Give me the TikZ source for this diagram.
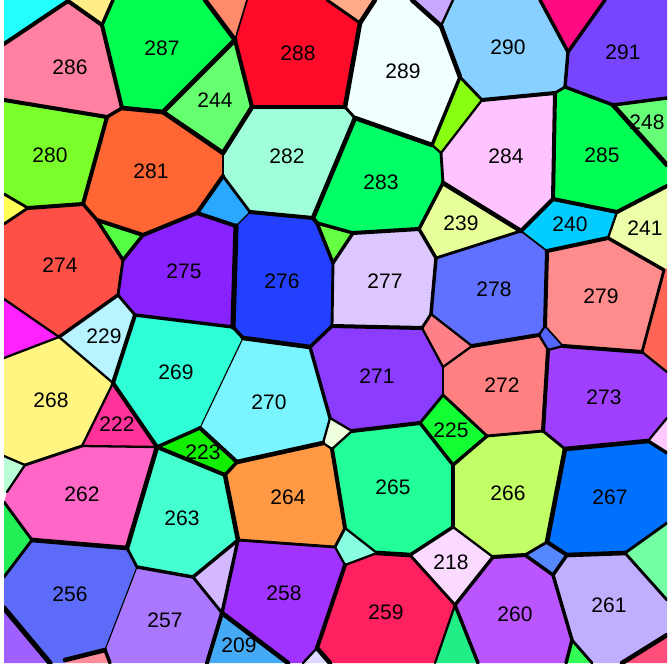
\documentclass[tikz,border=0pt]{standalone}
\usepackage{fontspec}
\setmainfont{Liberation Sans}
\begin{document}
\begin{tikzpicture}[x=1pt,y=-1pt,
  ew/.style={line width=#1*1.15pt,line cap=round,line join=round},
  lab/.style={font=\fontsize{21}{24}\selectfont,inner sep=0pt}]
\useasboundingbox (0,0) rectangle (667,668);
\fill[white] (0,0) rectangle (667,668);
% vertices
\foreach \n/\x/\y in {a1/4/44,a2/68/1,a3/102/25,a4/113/0,a5/122/108,a6/107/117,a7/4/100,a8/163/112,a9/235/40,a10/205/0,
a11/247/0,a12/252/107,a13/345/107,a14/360/23,a15/327/0,a16/375/0,a17/355/118,a18/432/145,a19/460/77,a20/441/26,
a21/412/0,a22/453/0,a23/482/100,a24/441/153,a25/555/93,a26/565/87,a27/568/52,a28/540/0,a29/605/0,a30/613/105,
a31/667/98,a32/667/165,a33/667/186,a34/617/212,a35/553/199,a36/521/231,a37/443/183,a38/419/229,a39/436/258,a40/547/251,
a41/608/238,a42/664/270,a43/667/268,a44/642/352,a45/667/372,a46/563/346,a47/545/326,a48/539/335,a49/548/350,a50/472/346,
a51/431/314,a52/422/328,a53/443/367,a54/443/395,a55/487/436,a56/543/431,a57/565/449,a58/648/441,a59/667/418,a60/667/453,
a61/420/423,a62/453/465,a63/352/431,a64/330/418,a65/310/347,a66/332/326,a67/333/263,a68/353/233,a69/317/223,a70/313/218,
a72/250/212,a73/223/176,a74/223/153,a75/197/213,a76/236/226,a77/143/235,a78/97/220,a79/83/204,a80/28/208,
a81/4/194,a82/4/224,a83/123/260,a84/118/295,a85/59/337,a86/4/299,a87/4/358,a88/135/315,a89/113/383,a90/233/327,
a91/243/338,a92/200/428,a93/157/447,a94/82/446,a95/25/465,a96/4/456,a97/7/492,a98/4/502,a99/32/540,a100/4/577,
b1/237/462,b2/225/475,b3/323/443,b4/332/449,b5/345/528,b6/335/547,b7/238/540,b8/193/577,b9/137/567,b10/127/548,
b11/105/650,b12/65/660,b13/110/663,b14/66/663,b15/50/663,b16/4/608,b17/222/613,b18/207/663,b19/288/663,b20/303/663,
b21/317/648,b22/330/663,b23/345/565,b24/377/553,b25/410/555,b26/453/527,b27/493/557,b28/455/605,b29/435/663,b30/478/663,
b31/525/555,b32/547/542,b33/567/555,b34/553/575,b35/572/640,b36/566/663,b37/592/663,b38/625/553,b39/667/523,b40/667/600,
b41/667/635,b42/622/663,c1/4/0,c2/667/0,c3/667/663,c4/4/663,t1/68/0,m1/4/492}
  {\coordinate (\n) at (\x,\y);}
\begin{scope}
\clip (4,0) rectangle (667,663);
% cells
\foreach \col/\pts in {
 22FFFF/{(c1)--(t1)--(a2)--(a1)},
 FFEE88/{(t1)--(a2)--(a3)--(a4)},
 FF80A0/{(a1)--(a2)--(a3)--(a5)--(a6)--(a7)},
 00FF50/{(a4)--(a3)--(a5)--(a8)--(a9)--(a10)},
 FF8A6C/{(a10)--(a9)--(a11)},
 66FF70/{(a9)--(a12)--(a74)--(a8)},
 FF0A28/{(a11)--(a9)--(a12)--(a13)--(a14)--(a15)},
 FFAA88/{(a15)--(a14)--(a16)},
 F2FFFF/{(a16)--(a14)--(a13)--(a17)--(a18)--(a19)--(a20)--(a21)},
 C8A8FF/{(a21)--(a20)--(a22)},
 88FF11/{(a19)--(a23)--(a24)--(a18)},
 88D0FF/{(a22)--(a20)--(a19)--(a23)--(a25)--(a26)--(a27)--(a28)},
 FF0A80/{(a28)--(a27)--(a29)},
 7744FF/{(a29)--(a27)--(a26)--(a30)--(a31)--(c2)},
 66FF77/{(a30)--(a31)--(a32)},
 00FF55/{(a25)--(a26)--(a30)--(a32)--(a33)--(a34)--(a35)},
 FFC4FF/{(a23)--(a25)--(a35)--(a36)--(a37)--(a24)},
 00FF66/{(a17)--(a18)--(a24)--(a37)--(a38)--(a68)--(a69)--(a70)},
 A0FFDA/{(a12)--(a13)--(a17)--(a70)--(a72)--(a73)--(a74)},
 FF6633/{(a6)--(a5)--(a8)--(a74)--(a73)--(a75)--(a77)--(a78)--(a79)},
 7BFF2B/{(a7)--(a6)--(a79)--(a80)--(a81)},
 FFFF55/{(a81)--(a80)--(a82)},
 2AA8FF/{(a73)--(a72)--(a76)--(a75)},
 2440FF/{(a72)--(a70)--(a69)--(a67)--(a66)--(a65)--(a91)--(a90)--(a76)},
 66FF44/{(a69)--(a68)--(a67)},
 DCC8FF/{(a68)--(a38)--(a39)--(a51)--(a52)--(a66)--(a67)},
 E6FF99/{(a37)--(a36)--(a39)--(a38)},
 00CCFF/{(a36)--(a35)--(a34)--(a41)--(a40)},
 EEFFAA/{(a34)--(a33)--(a43)--(a42)--(a41)},
 6070FF/{(a36)--(a40)--(a47)--(a48)--(a50)--(a51)--(a39)},
 FF8C8C/{(a40)--(a41)--(a42)--(a44)--(a46)--(a47)},
 FF6655/{(a42)--(a43)--(a45)--(a44)},
 5566FF/{(a47)--(a46)--(a49)--(a48)},
 A040FF/{(a49)--(a46)--(a44)--(a45)--(a59)--(a58)--(a57)--(a56)},
 FFC8FF/{(a59)--(a60)--(a58)},
 FF8080/{(a50)--(a48)--(a49)--(a56)--(a55)--(a54)--(a53)},
 FF8088/{(a51)--(a50)--(a53)--(a52)},
 8C3CFF/{(a65)--(a66)--(a52)--(a53)--(a54)--(a61)--(a63)--(a64)},
 11FF33/{(a61)--(a54)--(a55)--(a62)},
 8822FF/{(a77)--(a75)--(a76)--(a90)--(a88)--(a84)--(a83)},
 55FF44/{(a78)--(a77)--(a83)},
 FF5048/{(a80)--(a79)--(a78)--(a83)--(a84)--(a85)--(a86)--(a82)},
 FF22FF/{(a86)--(a85)--(a87)},
 B8F4FF/{(a84)--(a88)--(a89)--(a85)},
 FFF580/{(a85)--(a89)--(a94)--(a95)--(a96)--(a87)},
 FF3399/{(a89)--(a93)--(a94)},
 2EFFD6/{(a88)--(a90)--(a91)--(a92)--(a93)--(a89)},
 7AF5FF/{(a91)--(a65)--(a64)--(b3)--(b1)--(a92)},
 11EE00/{(a93)--(a92)--(b1)--(b2)},
 EEFFDD/{(a64)--(a63)--(b4)--(b3)},
 FF9944/{(b1)--(b3)--(b4)--(b5)--(b6)--(b7)--(b2)},
 22FF99/{(a63)--(a61)--(a62)--(b26)--(b25)--(b24)--(b5)--(b4)},
 88FFE0/{(b5)--(b24)--(b23)--(b6)},
 44FFD0/{(a93)--(b2)--(b7)--(b8)--(b9)--(b10)},
 FF66C6/{(a94)--(a93)--(b10)--(a99)--(a98)--(a97)--(a95)},
 B8FFD8/{(a96)--(a95)--(a97)--(m1)},
 22EE55/{(a98)--(a99)--(a100)},
 5C6CF8/{(a99)--(b10)--(b9)--(b11)--(b12)--(b14)--(b15)--(b16)--(a100)},
 FF8C99/{(b12)--(b11)--(b13)--(b14)},
 A060FF/{(b16)--(b15)--(c4)},
 AA77FF/{(b9)--(b8)--(b17)--(b18)--(b13)--(b11)},
 D4B8FF/{(b8)--(b7)--(b17)},
 44AAF5/{(b17)--(b19)--(b18)},
 A033FF/{(b7)--(b6)--(b23)--(b21)--(b20)--(b19)--(b17)},
 DDD8FF/{(b20)--(b21)--(b22)},
 FF2060/{(b23)--(b24)--(b25)--(b28)--(b29)--(b22)--(b21)},
 FADAFF/{(b25)--(b26)--(b27)--(b28)},
 22EE88/{(b28)--(b30)--(b29)},
 C2FF66/{(a62)--(a55)--(a56)--(a57)--(b32)--(b31)--(b27)--(b26)},
 0070FF/{(a57)--(a58)--(a60)--(b39)--(b38)--(b33)--(b32)},
 5588FF/{(b31)--(b32)--(b33)--(b34)},
 BB55FF/{(b28)--(b27)--(b31)--(b34)--(b35)--(b36)--(b30)},
 33FF55/{(b35)--(b37)--(b36)},
 C0AEFF/{(b34)--(b33)--(b38)--(b40)--(b41)--(b42)--(b37)--(b35)},
 75FFA5/{(b38)--(b39)--(b40)},
 FF4F7A/{(b42)--(b41)--(c3)}}
 {\definecolor{cc}{HTML}{\col}\fill[cc] \pts -- cycle;}
% edges
\foreach \w/\p/\q in {
3.5/a1/a2,3.5/a2/a3,3/a3/a4,3.5/a3/a5,3.5/a7/a6,3/a6/a5,4/a5/a8,4/a8/a9,4/a10/a9,1.5/a9/a11,
3.5/a9/a12,4/a8/a74,4/a12/a74,3.5/a12/a13,2.5/a15/a14,4/a14/a16,4/a14/a13,2.5/a13/a17,4/a17/a70,4/a17/a18,
3/a18/a19,4/a21/a20,2/a20/a22,4/a20/a19,2.5/a19/a23,2/a23/a24,2/a18/a24,3.5/a23/a25,3/a28/a27,3/a27/a29,
3/a27/a26,2.5/a26/a25,3/a26/a30,3/a30/a31,4/a30/a32,3.5/a25/a35,3.5/a33/a34,3.5/a34/a35,2.5/a24/a37,4/a37/a36,
3.5/a35/a36,3/a37/a38,3.5/a38/a68,3/a68/a69,3.5/a72/a70,3.5/a70/a69,3/a38/a39,2.5/a39/a36,1.5/a36/a40,3.5/a40/a41,
2/a34/a41,3/a41/a42,2.5/a42/a44,2/a44/a45,3.5/a40/a47,3.5/a46/a44,1.5/a47/a46,2/a47/a48,2/a48/a49,2/a49/a46,
3.5/a50/a48,3/a39/a51,2/a51/a50,2.5/a51/a52,3.5/a52/a66,2.5/a67/a66,3/a68/a67,3/a69/a67,3.5/a49/a56,2/a50/a53,
2/a52/a53,2.5/a53/a54,2.5/a54/a55,2.5/a55/a56,2.5/a56/a57,4/a57/a58,2/a59/a58,3/a58/a60,2.5/a54/a61,3.5/a61/a63,
3/a65/a64,2/a64/a63,3/a65/a66,4/a91/a65,3/a90/a91,4.5/a76/a90,1/a76/a72,3.5/a75/a76,3.5/a73/a75,2.5/a73/a72,
2.5/a74/a73,3.5/a75/a77,3.5/a78/a77,3/a79/a78,3.5/a6/a79,3.5/a80/a79,2.5/a81/a80,2.5/a80/a82,3/a78/a83,3/a77/a83,
2.5/a83/a84,3/a84/a85,2/a85/a86,2/a85/a87,2.5/a84/a88,2/a85/a89,3.5/a88/a89,3/a88/a90,2/a89/a94,3.5/a89/a93,
2/a94/a93,2.5/a94/a95,2/a95/a96,2/a95/a97,2.5/a98/a99,2.5/a99/a100,4/a99/b10,4/a93/b10,1/a91/a92,3/a92/a93,
3.5/a93/b2,3.5/a92/b1,3/b1/b2,4/b1/b3,2/a64/b3,2/b3/b4,2/b4/a63,3.5/b4/b5,4/b2/b7,2.5/b7/b6,
2.5/b6/b5,2/b5/b24,2/b6/b23,2/b23/b24,4/b24/b25,3/b25/b26,3/a62/b26,3/a61/a62,3/a62/a55,2/b26/b27,
3/b27/b28,2.5/b25/b28,3.5/b27/b31,2.5/b31/b32,4/a57/b32,3.5/b32/b33,4/b33/b38,2.5/b38/b39,2.5/b38/b40,3/b31/b34,
3/b33/b34,3/b34/b35,3/b35/b36,2.5/b35/b37,4/b42/b41,2/b28/b29,3/b28/b30,3.5/b23/b21,4/b21/b22,2/b21/b20,
4/b17/b19,3/b7/b17,3/b7/b8,2.5/b8/b17,3.5/b17/b18,3/b8/b9,2.5/b10/b9,1/b9/b11,4/b12/b11,3/b11/b13,4.5/b16/b15}
 {\draw[ew=\w] (\p) -- (\q);}
% labels
\foreach \t/\x/\y in {286/70/67,287/162/48,244/215/100,288/298/53,289/403/71,290/508/47,291/623/52,248/647/122,
280/50/155,281/151/171,282/287/156,283/381/182,284/506/156,285/602/155,239/461/223,240/570/224,241/645/228,
274/60/265,275/184/271,276/282/281,277/385/281,278/494/289,279/601/296,229/104/336,269/176/372,270/269/402,
271/377/376,272/502/385,273/604/397,268/51/400,222/117/424,223/203/452,225/451/430,264/288/497,265/393/487,
266/508/493,267/610/497,262/82/494,263/182/518,256/70/594,257/165/620,258/284/593,259/386/612,260/515/614,
261/609/605,218/451/562,209/239/645}
 {\node[lab] (n\t) at (\x,\y) {\t};}
\end{scope}
\end{tikzpicture}
\end{document}
